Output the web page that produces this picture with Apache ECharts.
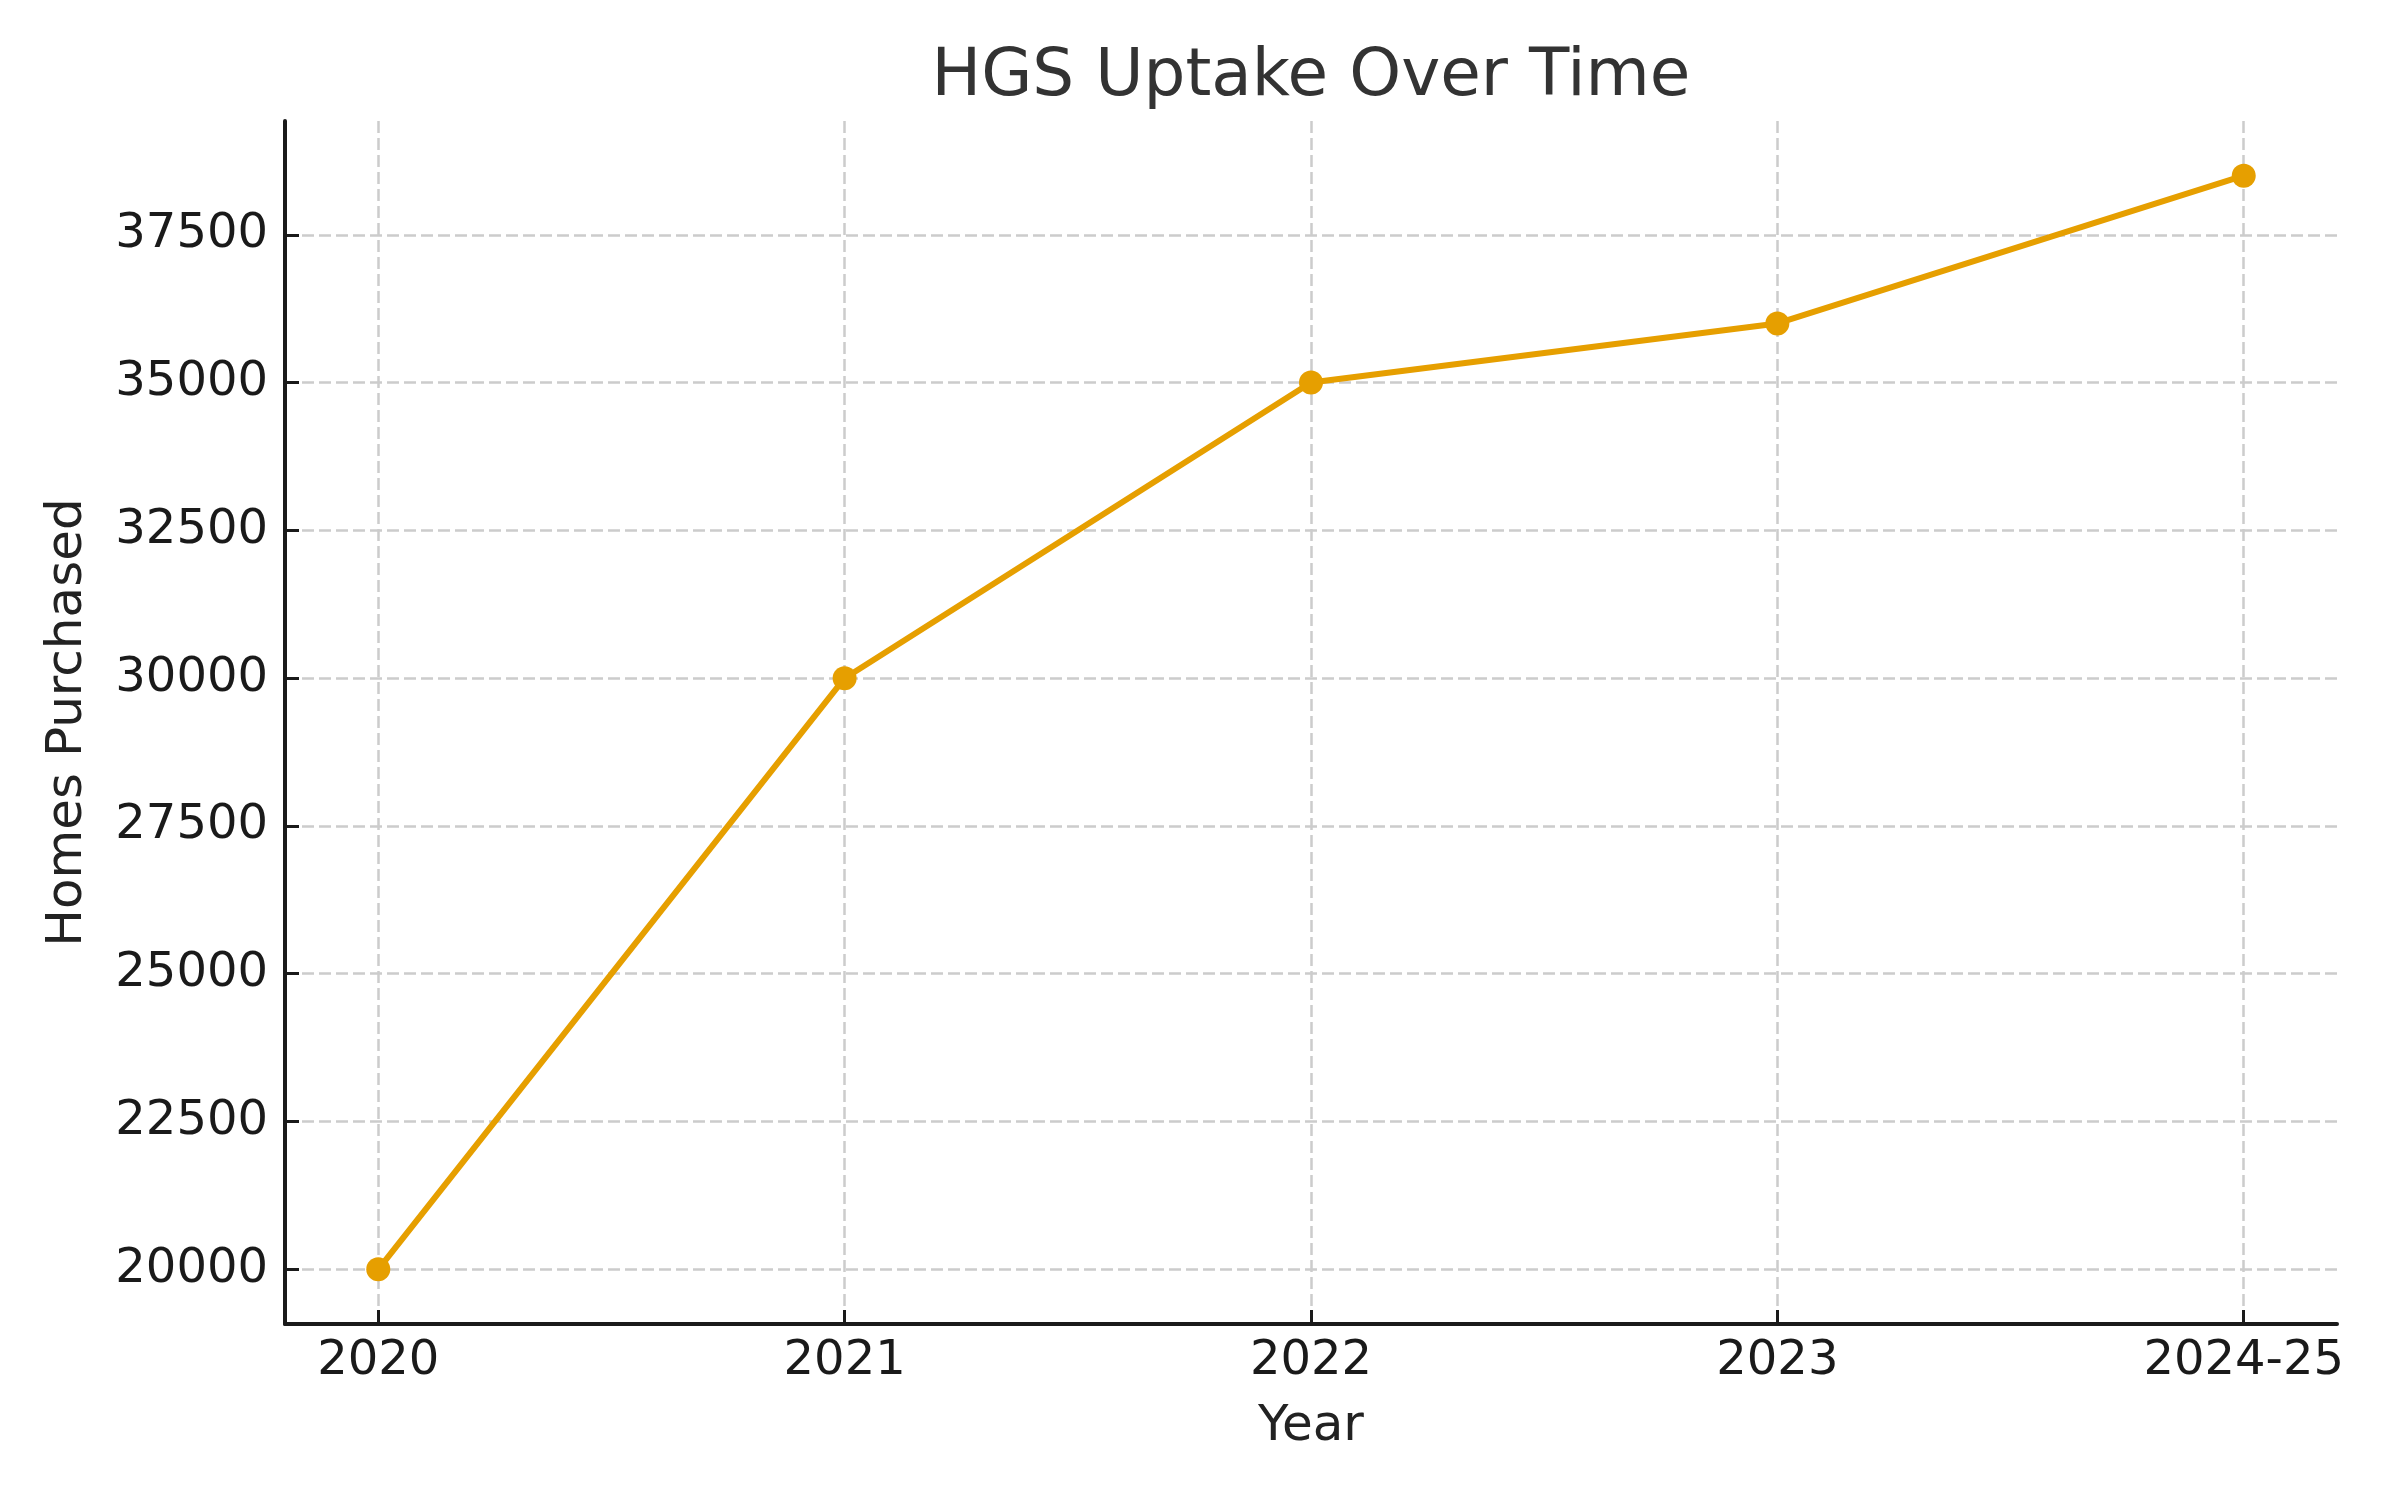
<!DOCTYPE html>
<html>
<head>
<meta charset="utf-8">
<script src="https://cdn.jsdelivr.net/npm/echarts@6/dist/echarts.min.js"></script>
<style>
html,body{margin:0;padding:0;background:#fff;}
#chart{width:2400px;height:1500px;}
</style>
</head>
<body>
<div id="chart"></div>
<script>
const categories = ['2020', '2021', '2022', '2023', '2024-25'];
const homesPurchased = [20000, 30000, 35000, 36000, 38500];
const yTicks = [20000, 22500, 25000, 27500, 30000, 32500, 35000, 37500];
const xTicks = [0, 1, 2, 3, 4];

const dMin = Math.min(...homesPurchased), dMax = Math.max(...homesPurchased);
const pad = (dMax - dMin) * 0.05;
const xPad = (categories.length - 1) * 0.05;

const gridLeft = 285, gridRight = 63;
const font = 'DejaVu Sans';
const chart = echarts.init(document.getElementById('chart'));
chart.setOption({
  backgroundColor: '#ffffff',
  animation: false,
  title: {
    text: 'HGS Uptake Over Time',
    left: gridLeft + (2400 - gridLeft - gridRight) / 2,
    textAlign: 'center',
    top: 45,
    padding: 0,
    textStyle: { fontFamily: font, fontSize: 66, fontWeight: 'normal', color: '#333333' }
  },
  grid: { left: gridLeft, right: gridRight, top: 121, bottom: 176, containLabel: false },
  xAxis: {
    type: 'value',
    min: -xPad,
    max: categories.length - 1 + xPad,
    name: 'Year',
    nameLocation: 'middle',
    nameGap: 78,
    nameTextStyle: { fontFamily: font, fontSize: 50, color: '#222222' },
    axisLine: { show: true, onZero: false, lineStyle: { color: '#1a1a1a', width: 4 } },
    axisTick: { show: true, inside: true, length: 14, customValues: xTicks, lineStyle: { color: '#1a1a1a', width: 3 } },
    axisLabel: {
      customValues: xTicks,
      margin: 14,
      fontFamily: font, fontSize: 48, color: '#1a1a1a',
      formatter: v => categories[Math.round(v)]
    },
    splitLine: { show: true, lineStyle: { color: '#cccccc', width: 2.5, type: [12, 5] } }
  },
  yAxis: {
    type: 'value',
    min: dMin - pad,
    max: dMax + pad,
    name: 'Homes Purchased',
    nameLocation: 'middle',
    nameGap: 192,
    nameTextStyle: { fontFamily: font, fontSize: 50, color: '#222222' },
    axisLine: { show: true, onZero: false, lineStyle: { color: '#1a1a1a', width: 4 } },
    axisTick: { show: true, inside: true, length: 14, customValues: yTicks, lineStyle: { color: '#1a1a1a', width: 3 } },
    axisLabel: {
      customValues: yTicks,
      margin: 17,
      fontFamily: font, fontSize: 48, color: '#1a1a1a',
      formatter: v => String(Math.round(v))
    },
    splitLine: { show: true, lineStyle: { color: '#cccccc', width: 2.5, type: [12, 5] } }
  },
  series: [{
    type: 'line',
    data: homesPurchased.map((v, i) => [i, v]),
    symbol: 'circle',
    symbolSize: 24,
    itemStyle: { color: '#E69F00' },
    lineStyle: { color: '#E69F00', width: 6 }
  }]
});
</script>
</body>
</html>
